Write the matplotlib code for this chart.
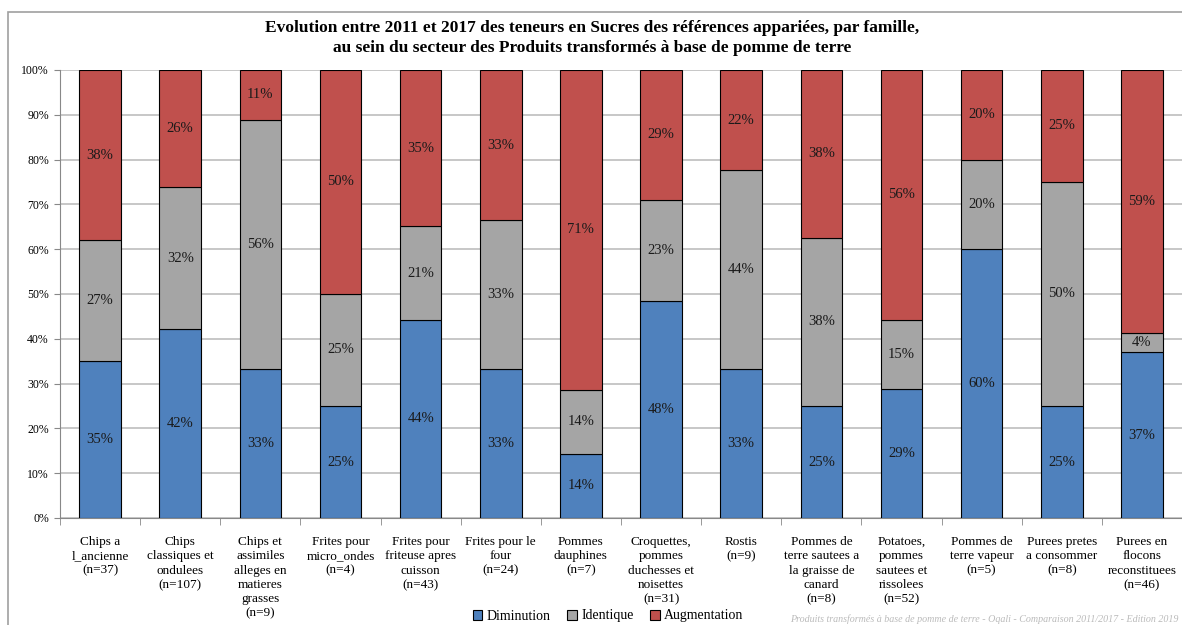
"""Evolution 2011-2017 des teneurs en sucres, produits transformés à base de pomme de terre."""

import matplotlib.pyplot as plt
import numpy as np
from matplotlib.patches import Rectangle

categories = [
    "Chips a\nl_ancienne\n(n=37)",
    "Chips\nclassiques et\nondulees\n(n=107)",
    "Chips et\nassimiles\nalleges en\nmatieres\ngrasses\n(n=9)",
    "Frites pour\nmicro_ondes\n(n=4)",
    "Frites pour\nfriteuse apres\ncuisson\n(n=43)",
    "Frites pour le\nfour\n(n=24)",
    "Pommes\ndauphines\n(n=7)",
    "Croquettes,\npommes\nduchesses et\nnoisettes\n(n=31)",
    "Rostis\n(n=9)",
    "Pommes de\nterre sautees a\nla graisse de\ncanard\n(n=8)",
    "Potatoes,\npommes\nsautees et\nrissolees\n(n=52)",
    "Pommes de\nterre vapeur\n(n=5)",
    "Purees pretes\na consommer\n(n=8)",
    "Purees en\nflocons\nreconstituees\n(n=46)",
]

diminution = [35.1, 42.1, 33.3, 25.0, 44.2, 33.3, 14.3, 48.4, 33.3, 25.0, 28.8, 60.0, 25.0, 37.0]
identique = [27.0, 31.8, 55.6, 25.0, 20.9, 33.3, 14.3, 22.6, 44.4, 37.5, 15.4, 20.0, 50.0, 4.3]
augmentation = [37.8, 26.2, 11.1, 50.0, 34.9, 33.3, 71.4, 29.0, 22.2, 37.5, 55.8, 20.0, 25.0, 58.7]

series = ["Diminution", "Identique", "Augmentation"]
colors = ["#4F81BD", "#A5A5A5", "#C0504D"]

serif = "Liberation Serif"

fig = plt.figure(figsize=(11.82, 6.25), dpi=100)
ax = fig.add_axes([60 / 1182, 1 - 518 / 625, 1 - 60 / 1182, 448 / 625])

# outer chart frame
fig.patches.append(
    Rectangle((8 / 1182, -0.05), 1.2, 1 - 12 / 625 + 0.05, transform=fig.transFigure,
              fill=False, edgecolor="#A0A0A0", linewidth=1.2)
)

x = np.arange(len(categories))
bottom = np.zeros(len(categories))
for name, values, color in zip(series, [diminution, identique, augmentation], colors):
    values = np.array(values)
    ax.bar(x, values, 0.52, bottom=bottom, color=color, edgecolor="black",
           linewidth=0.8, label=name, zorder=3)
    for xi, b, v in zip(x, bottom, values):
        ax.text(xi, b + v / 2, f"{v:.0f}%", ha="center", va="center",
                fontsize=10.5, family=serif, color="#1a1a1a", zorder=4)
    bottom += values

ax.set_xlim(-0.5, len(categories) - 0.5)
ax.set_ylim(0, 100)
ax.set_yticks(np.arange(0, 101, 10))
ax.set_yticklabels([f"{v}%" for v in range(0, 101, 10)], family=serif, fontsize=8.5)
ax.yaxis.grid(True, color="#BDBDBD", linewidth=1.2, zorder=0)

ax.set_xticks(x)
ax.set_xticklabels(categories, family=serif, fontsize=9.5, linespacing=1.25)
ax.tick_params(axis="x", length=0, pad=13)
ax.set_xticks(np.arange(-0.5, len(categories), 1), minor=True)
ax.tick_params(axis="x", which="minor", length=5, color="#888888")
ax.tick_params(axis="y", length=4, color="#888888", pad=4)

for side in ["top", "right"]:
    ax.spines[side].set_visible(False)
ax.spines["left"].set_color("#888888")
ax.spines["bottom"].set_color("#888888")

fig.text(592 / 1182, 1 - 38 / 625,
         "Evolution entre 2011 et 2017 des teneurs en Sucres des références appariées, par famille,\n"
         "au sein du secteur des Produits transformés à base de pomme de terre",
         ha="center", va="center", fontsize=12.5, fontweight="bold", family=serif,
         linespacing=1.3)

fig.legend(loc="center", bbox_to_anchor=(608 / 1182, 1 - 616 / 625), ncol=3, frameon=False,
           prop={"family": serif, "size": 10}, handlelength=0.7, handleheight=0.7,
           handletextpad=0.3, columnspacing=1.2, borderpad=0)

fig.text(1178 / 1182, 1 - 619 / 625,
         "Produits transformés à base de pomme de terre - Oqali - Comparaison 2011/2017 - Edition 2019",
         ha="right", va="center", fontsize=7.2, style="italic", color="#BBBBBB", family=serif)

plt.savefig("out.png", dpi=100)
plt.close()
